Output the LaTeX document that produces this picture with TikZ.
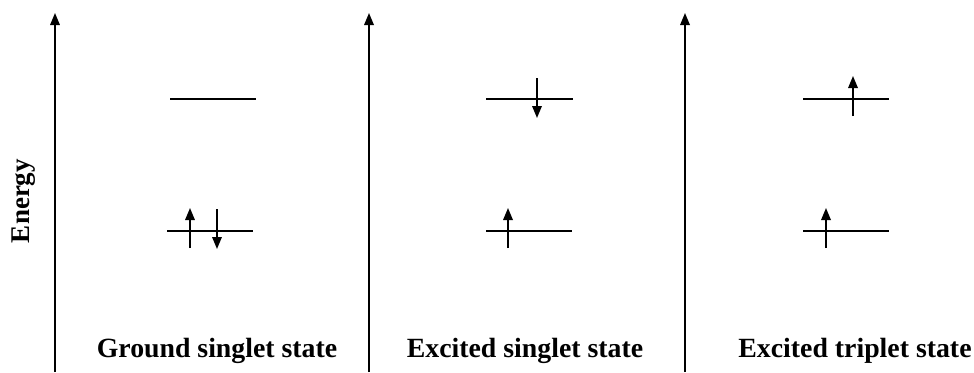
\documentclass[tikz,border=0pt]{standalone}
\usepackage{fontspec}
\setmainfont{Liberation Serif}
\usetikzlibrary{arrows.meta}
\begin{document}
\begin{tikzpicture}[x=1pt,y=-1pt,
  axis/.style={line width=1.7pt,-{Triangle[length=12pt,width=9.5pt]}},
  level/.style={line width=1.2pt},
  spin/.style={line width=1.7pt,-{Triangle[length=12pt,width=9.5pt]}},
  lbl/.style={font=\fontsize{27.8}{32}\selectfont\bfseries,anchor=base}]
\useasboundingbox (0,0) rectangle (974,372);
% axes
\coordinate (a1b) at (55,372); \coordinate (a1t) at (55,13);
\coordinate (a2b) at (369,372); \coordinate (a2t) at (369,13);
\coordinate (a3b) at (685,372); \coordinate (a3t) at (685,13);
\draw[axis] (a1b) -- (a1t);
\draw[axis] (a2b) -- (a2t);
\draw[axis] (a3b) -- (a3t);
\node[font=\fontsize{27}{30}\selectfont\bfseries,rotate=90] (energy) at (24,201) {Energy};
% panel 1
\coordinate (u1l) at (170,99); \coordinate (u1r) at (256,99);
\coordinate (l1l) at (167,231); \coordinate (l1r) at (253,231);
\draw[level] (u1l) -- (u1r);
\draw[level] (l1l) -- (l1r);
\coordinate (s1a) at (190,248); \coordinate (s1b) at (190,208);
\coordinate (s1c) at (217,209); \coordinate (s1d) at (217,249);
\draw[spin] (s1a) -- (s1b);
\draw[spin] (s1c) -- (s1d);
\node[lbl] (t1) at (217,357) {Ground singlet state};
% panel 2
\coordinate (u2l) at (486,99); \coordinate (u2r) at (573,99);
\coordinate (l2l) at (486,231); \coordinate (l2r) at (572,231);
\draw[level] (u2l) -- (u2r);
\draw[level] (l2l) -- (l2r);
\coordinate (s2a) at (537,78); \coordinate (s2b) at (537,118);
\coordinate (s2c) at (508,248); \coordinate (s2d) at (508,208);
\draw[spin] (s2a) -- (s2b);
\draw[spin] (s2c) -- (s2d);
\node[lbl] (t2) at (525,357) {Excited singlet state};
% panel 3
\coordinate (u3l) at (803,99); \coordinate (u3r) at (889,99);
\coordinate (l3l) at (803,231); \coordinate (l3r) at (889,231);
\draw[level] (u3l) -- (u3r);
\draw[level] (l3l) -- (l3r);
\coordinate (s3a) at (853,116); \coordinate (s3b) at (853,76);
\coordinate (s3c) at (826,248); \coordinate (s3d) at (826,208);
\draw[spin] (s3a) -- (s3b);
\draw[spin] (s3c) -- (s3d);
\node[lbl] (t3) at (855,357) {Excited triplet state};
\end{tikzpicture}
\end{document}
